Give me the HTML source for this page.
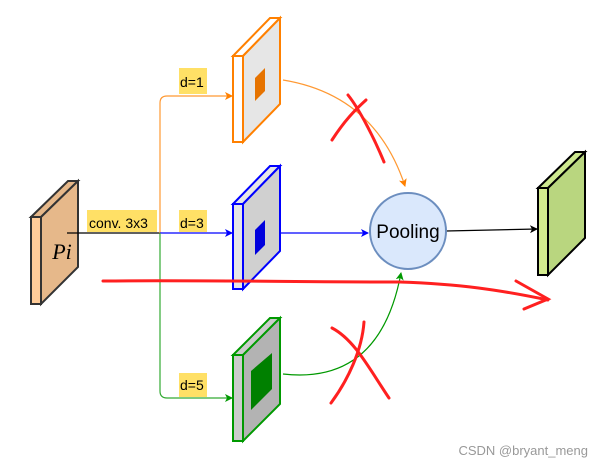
<!DOCTYPE html>
<html><head><style>body{margin:0;background:#fff}svg{display:block}</style></head><body>
<svg width="604" height="465" viewBox="0 0 604 465" xmlns="http://www.w3.org/2000/svg" font-family="Liberation Sans, sans-serif">
<defs>
<marker id="ao" markerWidth="8" markerHeight="8" refX="7" refY="4" orient="auto" markerUnits="userSpaceOnUse"><path d="M0,0 L8,4 L0,8 L2,4z" fill="#ff8000"/></marker>
<marker id="ab" markerWidth="8" markerHeight="8" refX="7" refY="4" orient="auto" markerUnits="userSpaceOnUse"><path d="M0,0 L8,4 L0,8 L2,4z" fill="#0000ff"/></marker>
<marker id="ag" markerWidth="8" markerHeight="8" refX="7" refY="4" orient="auto" markerUnits="userSpaceOnUse"><path d="M0,0 L8,4 L0,8 L2,4z" fill="#009900"/></marker>
<marker id="ak" markerWidth="8" markerHeight="8" refX="7" refY="4" orient="auto" markerUnits="userSpaceOnUse"><path d="M0,0 L8,4 L0,8 L2,4z" fill="#000"/></marker>
</defs>
<!-- Pi -->
<polygon points="31,217 68,181 78,181 41,217" fill="#e6b88a" stroke="#333" stroke-width="2"/>
<polygon points="41,217 78,181 78,267 41,304" fill="#e6b88a" stroke="#333" stroke-width="2"/>
<rect x="31" y="217" width="10" height="87" fill="#ffcc99" stroke="#333" stroke-width="2"/>
<text x="62" y="259" font-family="Liberation Serif, serif" font-style="italic" font-size="22" text-anchor="middle">Pi</text>
<!-- labels -->
<rect x="87" y="210" width="70" height="22" fill="#ffe066"/>
<text x="89" y="228" font-size="14">conv. 3x3</text>
<rect x="179" y="68" width="28" height="26" fill="#ffe066"/><text x="180" y="87" font-size="14">d=1</text>
<rect x="179" y="210" width="28" height="22" fill="#ffe066"/><text x="180" y="228" font-size="14">d=3</text>
<rect x="179" y="373" width="28" height="24" fill="#ffe066"/><text x="180" y="390" font-size="14">d=5</text>
<!-- connectors -->
<path d="M67,233 H160" stroke="#000" stroke-width="1.2" fill="none"/>
<path d="M160,233 V103 Q160,96 167,96 H232" stroke="#ff9933" stroke-width="1.2" fill="none" marker-end="url(#ao)"/>
<path d="M160,233 H232" stroke="#0000ff" stroke-width="1.2" fill="none" marker-end="url(#ab)"/>
<path d="M160,233 V391 Q160,398 167,398 H232" stroke="#33aa33" stroke-width="1.2" fill="none" marker-end="url(#ag)"/>
<path d="M280,233 H368" stroke="#0000ff" stroke-width="1.2" fill="none" marker-end="url(#ab)"/>
<path d="M446,231 L537,229" stroke="#000" stroke-width="1.2" fill="none" marker-end="url(#ak)"/>
<path d="M283,80 Q375,95 405,186" stroke="#ff9933" stroke-width="1.2" fill="none" marker-end="url(#ao)"/>
<path d="M283,374 Q380,385 401,273" stroke="#009900" stroke-width="1.2" fill="none" marker-end="url(#ag)"/>
<!-- orange block -->
<polygon points="233,56 270,18 280,18 243,56" fill="#fff" stroke="#ff8000" stroke-width="2"/>
<polygon points="243,56 280,18 280,104 243,142" fill="#e6e6e6" stroke="#ff8000" stroke-width="2"/>
<rect x="233" y="56" width="10" height="86" fill="#fff" stroke="#ff8000" stroke-width="2"/>
<polygon points="255,78 265,68 265,91 255,101" fill="#e67300"/>
<!-- blue block -->
<polygon points="233,204 270,166 280,166 243,204" fill="#e6e6e6" stroke="#0000ff" stroke-width="2"/>
<polygon points="243,204 280,166 280,251 243,289" fill="#d0d0d0" stroke="#0000ff" stroke-width="2"/>
<rect x="233" y="204" width="10" height="85" fill="#e6e6e6" stroke="#0000ff" stroke-width="2"/>
<polygon points="255,230 265,220 265,245 255,255" fill="#0000dd"/>
<!-- green block -->
<polygon points="233,355 270,318 280,318 243,355" fill="#cccccc" stroke="#009900" stroke-width="2"/>
<polygon points="243,355 280,318 280,404 243,441" fill="#b3b3b3" stroke="#009900" stroke-width="2"/>
<rect x="233" y="355" width="10" height="86" fill="#cccccc" stroke="#009900" stroke-width="2"/>
<polygon points="251,371 272,353 272,389 251,410" fill="#008000"/>
<!-- pooling -->
<circle cx="408" cy="231" r="38" fill="#dae8fc" stroke="#6c8ebf" stroke-width="2"/>
<text x="408" y="238" font-size="19" text-anchor="middle">Pooling</text>
<!-- output -->
<polygon points="538,188 575,152 585,152 548,188" fill="#cde88f" stroke="#000" stroke-width="2"/>
<polygon points="548,188 585,152 585,238 548,275" fill="#b9d67f" stroke="#000" stroke-width="2"/>
<rect x="538" y="188" width="10" height="87" fill="#d4ec8e" stroke="#000" stroke-width="2"/>
<!-- red annotations -->
<g stroke="#ff2020" stroke-width="3" fill="none" stroke-linecap="round">
<path d="M103,281 C200,280 300,282 400,282 C460,284 500,290 548,300"/>
<path d="M516,281 L548,299 L524,309"/>
<path d="M348,95 C360,110 375,140 384,162"/>
<path d="M332,140 C345,120 355,110 366,100"/>
<path d="M364,322 C362,350 348,380 331,403"/>
<path d="M332,328 C355,340 370,370 389,398"/>
</g>
<text x="588" y="455" font-size="13" fill="#999" text-anchor="end">CSDN @bryant_meng</text>
</svg>
</body></html>
